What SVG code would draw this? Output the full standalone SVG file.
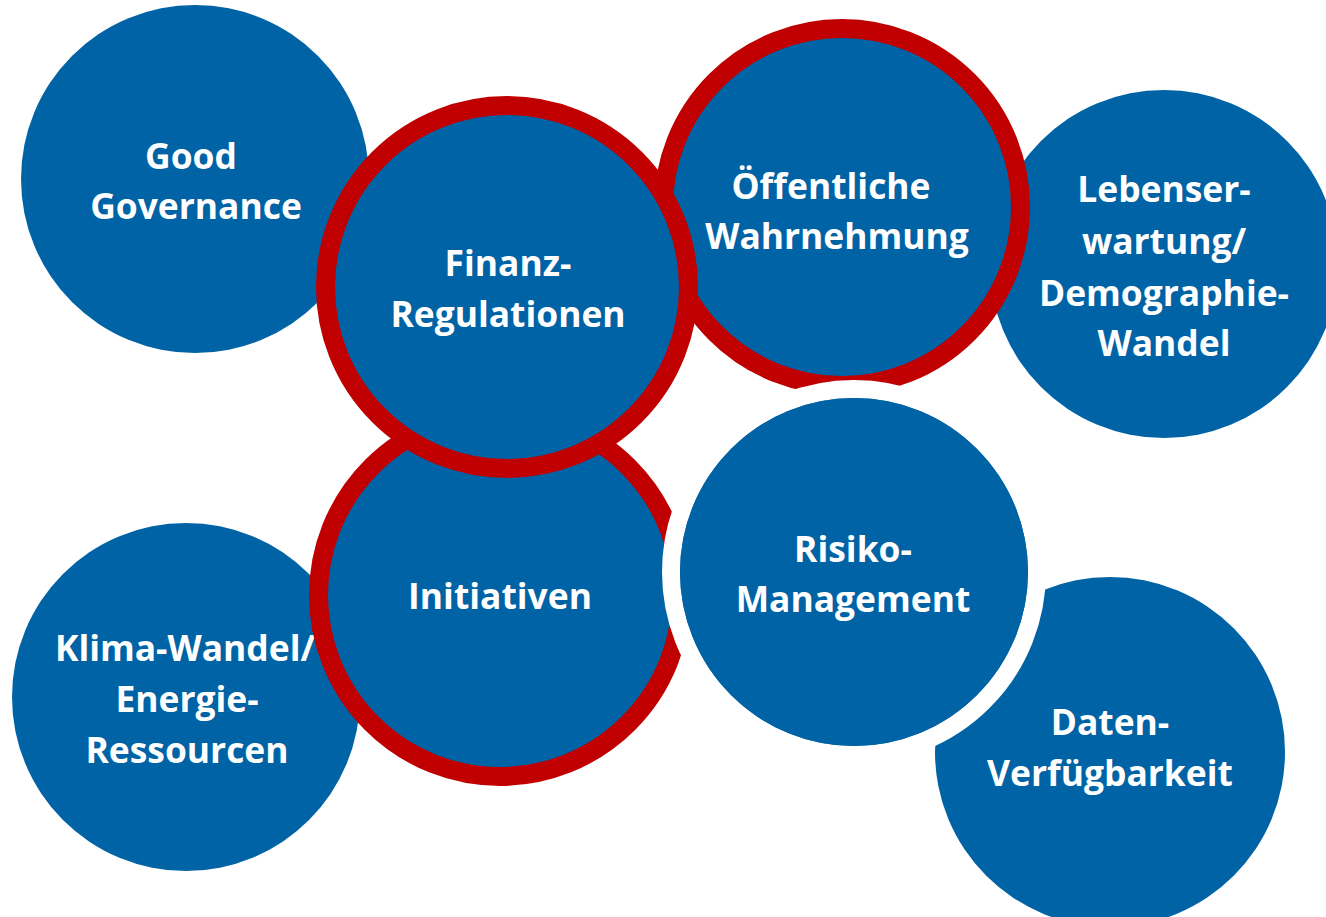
<svg xmlns="http://www.w3.org/2000/svg" width="1326" height="917" viewBox="0 0 1326 917">
<style>
.b{fill:#0063A5}
.r{fill:#0063A5;stroke:#C00000;stroke-width:19}
.w{fill:#0063A5;stroke:#FFFFFF;stroke-width:18}
.t{fill:#FFFFFF;font-family:"Open Sans",Lato,"Liberation Sans",sans-serif;font-weight:700;font-size:35.4px;text-anchor:middle;font-variant-ligatures:none}
</style>
<rect width="1326" height="917" fill="#FFFFFF"/>
<g id="good-governance">
<circle class="b" cx="195" cy="179" r="174"/>
<text class="t" x="191" y="169">Good</text>
<text class="t" x="196" y="219">Governance</text>
</g>
<g id="klima-wandel">
<circle class="b" cx="186" cy="697" r="174"/>
<text class="t" x="185" y="661">Klima-Wandel/</text>
<text class="t" x="187" y="712">Energie-</text>
<text class="t" x="187" y="763">Ressourcen</text>
</g>
<g id="lebenserwartung">
<circle class="b" cx="1164" cy="264" r="174"/>
<text class="t" x="1164" y="202">Lebenser-</text>
<text class="t" x="1164" y="254">wartung/</text>
<text class="t" x="1164" y="306">Demographie-</text>
<text class="t" x="1164" y="356">Wandel</text>
</g>
<g id="daten-verfuegbarkeit">
<circle class="b" cx="1110" cy="752" r="175"/>
<text class="t" x="1110" y="735">Daten-</text>
<text class="t" x="1110" y="786">Verfügbarkeit</text>
</g>
<g id="oeffentliche-wahrnehmung">
<circle class="r" cx="842" cy="207" r="178.5"/>
<text class="t" x="831" y="199">Öffentliche</text>
<text class="t" x="837" y="249">Wahrnehmung</text>
</g>
<g id="initiativen">
<circle class="r" cx="500" cy="595" r="181.5"/>
<text class="t" x="500" y="609">Initiativen</text>
</g>
<g id="finanz-regulationen">
<circle class="r" cx="507" cy="287" r="181.5"/>
<text class="t" x="508" y="276">Finanz-</text>
<text class="t" x="508" y="327">Regulationen</text>
</g>
<g id="risiko-management">
<circle class="w" cx="854" cy="572" r="183"/>
<circle class="b" cx="854" cy="572" r="174"/>
<text class="t" x="853" y="562">Risiko-</text>
<text class="t" x="853" y="612">Management</text>
</g>
<g id="connectors"/>
</svg>
